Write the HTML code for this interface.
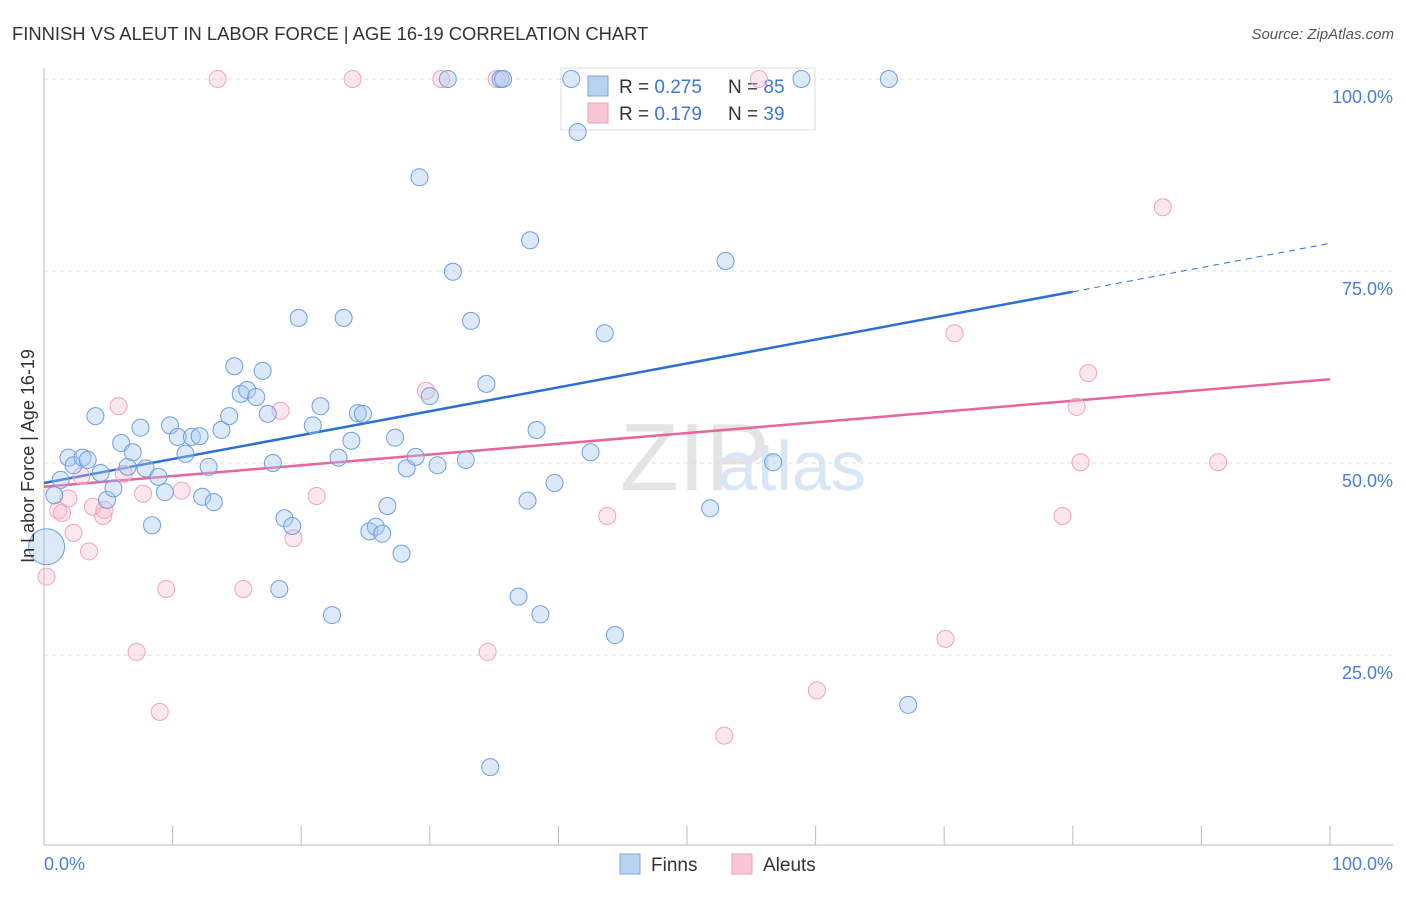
<!DOCTYPE html>
<html><head><meta charset="utf-8"><style>
body{margin:0;background:#fff;font-family:"Liberation Sans",sans-serif;}
svg text{font-family:"Liberation Sans",sans-serif;}
</style></head><body>
<svg id="chart" width="1406" height="892" xmlns="http://www.w3.org/2000/svg">
<text x="12" y="40" font-size="18.4" fill="#333">FINNISH VS ALEUT IN LABOR FORCE | AGE 16-19 CORRELATION CHART</text>
<text x="1394" y="39" font-size="15" fill="#555" text-anchor="end" font-style="italic">Source: ZipAtlas.com</text>
<text x="620" y="490" font-size="96" fill="#e4e4e4" font-family="Liberation Serif">ZIP</text>
<text x="718" y="490" font-size="70" fill="#d8e6f6">atlas</text>
<g id="grid"></g>
<g id="axes"></g>
<g>
<rect x="561" y="68" width="254" height="62" fill="#fff" stroke="#ddd"/>
<rect x="588" y="76" width="20" height="20" fill="#b9d2f2" stroke="#7aa6e0"/>
<rect x="588" y="103" width="20" height="20" fill="#f9c6d6" stroke="#ee9fba"/>
<text x="619" y="93" font-size="19" fill="#333">R = <tspan fill="#3b78d4">0.275</tspan></text>
<text x="728" y="93" font-size="19" fill="#333">N = <tspan fill="#3b78d4">85</tspan></text>
<text x="619" y="120" font-size="19" fill="#333">R = <tspan fill="#3b78d4"> 0.179</tspan></text>
<text x="728" y="120" font-size="19" fill="#333">N = <tspan fill="#3b78d4">39</tspan></text>
</g>
<g id="lines"></g>
<g id="points"></g>
<text transform="translate(34,456) rotate(-90)" font-size="18" fill="#333" text-anchor="middle">In Labor Force | Age 16-19</text>
<text x="44" y="870" font-size="18" fill="#4a7fd4">0.0%</text>
<text x="1393" y="870" font-size="18" fill="#4a7fd4" text-anchor="end">100.0%</text>
<g>
<rect x="620" y="854" width="20" height="20" fill="#b9d2f2" stroke="#7aa6e0"/>
<text x="651" y="871" font-size="19" fill="#333">Finns</text>
<rect x="732" y="854" width="20" height="20" fill="#f9c6d6" stroke="#ee9fba"/>
<text x="763" y="871" font-size="19" fill="#333">Aleuts</text>
</g>
</svg>
<script>
const yTicks=[25,50,75,100];
const yTickLabels=["25.0%","50.0%","75.0%","100.0%"];
const finnsX=[0.8,1.3,1.9,2.3,3.0,3.4,4.0,4.4,4.9,5.4,6.0,6.5,6.9,7.5,7.9,8.4,8.9,9.4,9.8,10.4,11.0,11.5,12.1,12.3,12.8,13.2,13.8,14.4,14.8,15.3,15.8,16.5,17.0,17.4,17.8,18.3,18.7,19.3,19.8,20.9,21.5,22.4,22.9,23.3,23.9,24.4,24.8,25.3,25.8,26.3,26.7,27.3,27.8,28.2,28.9,29.2,30.0,30.6,31.4,31.8,32.8,33.2,34.4,34.7,35.5,35.7,36.9,37.6,37.8,38.3,38.6,39.7,41.0,41.5,42.5,43.6,44.4,51.8,53.0,56.7,58.9,65.7,67.2,0.2];
const finnsY=[45.8,47.8,50.7,49.7,50.7,50.4,56.1,48.7,45.2,46.7,52.6,49.5,51.4,54.6,49.3,41.9,48.2,46.2,54.9,53.4,51.2,53.4,53.5,45.6,49.5,44.9,54.3,56.1,62.6,59.0,59.5,58.6,62.0,56.4,50.0,33.6,42.8,41.8,68.9,54.9,57.4,30.2,50.7,68.9,52.9,56.5,56.4,41.1,41.7,40.8,44.4,53.3,38.2,49.3,50.8,87.2,58.7,49.7,100,74.9,50.4,68.5,60.3,10.4,100,100,32.6,45.1,79.0,54.3,30.3,47.4,100,93.1,51.4,66.9,27.6,44.1,76.3,50.1,100,100,18.5,39.1];
const finnsSize=[8.5,8.5,8.5,8.5,8.5,8.5,8.5,8.5,8.5,8.5,8.5,8.5,8.5,8.5,8.5,8.5,8.5,8.5,8.5,8.5,8.5,8.5,8.5,8.5,8.5,8.5,8.5,8.5,8.5,8.5,8.5,8.5,8.5,8.5,8.5,8.5,8.5,8.5,8.5,8.5,8.5,8.5,8.5,8.5,8.5,8.5,8.5,8.5,8.5,8.5,8.5,8.5,8.5,8.5,8.5,8.5,8.5,8.5,8.5,8.5,8.5,8.5,8.5,8.5,8.5,8.5,8.5,8.5,8.5,8.5,8.5,8.5,8.5,8.5,8.5,8.5,8.5,8.5,8.5,8.5,8.5,8.5,8.5,18];
const aleutsX=[0.2,1.1,1.4,1.9,2.3,2.9,3.5,3.8,4.6,4.7,5.8,6.2,7.2,7.7,9.0,9.5,10.7,13.5,15.5,18.4,19.4,21.2,24.0,29.7,30.9,34.5,35.2,43.8,52.9,55.6,60.1,70.1,70.8,79.2,80.3,80.6,81.2,87.0,91.3];
const aleutsY=[35.2,43.8,43.5,45.4,40.9,48.3,38.5,44.3,43.1,43.9,57.4,48.6,25.4,46.0,17.6,33.6,46.4,100,33.6,56.8,40.2,45.7,100,59.4,100,25.4,100,43.1,14.5,100,20.4,27.1,66.9,43.1,57.3,50.1,61.7,83.3,50.1];
const finnsTrend=[47.4,72.3,78.6];
const finnsTrendX=[0,80,100];
const aleutsTrend=[46.9,60.9];
const aleutsTrendX=[0,100];

const NS="http://www.w3.org/2000/svg";
const X0=44,X1=1330,Y0=847,Y100=79;
const sx=v=>X0+(X1-X0)*v/100;
const sy=v=>Y0-(Y0-Y100)*v/100;
function mk(tag,attrs,parent){const e=document.createElementNS(NS,tag);for(const k in attrs)e.setAttribute(k,attrs[k]);parent.appendChild(e);return e;}
const grid=document.getElementById('grid'),axes=document.getElementById('axes'),lines=document.getElementById('lines'),pts=document.getElementById('points');
yTicks.forEach((t,i)=>{
  const g=mk('line',{x1:X0,x2:1393,y1:sy(t),y2:sy(t),stroke:'#ddd','stroke-dasharray':'4,4'},grid);
  
  
  const l=mk('text',{x:1393,y:sy(t)+24,'font-size':18,fill:'#4a7fd4','text-anchor':'end'},axes);
  l.textContent=yTickLabels[i];
  
  
});
const ax=mk('line',{x1:X0,x2:1393,y1:845,y2:845,stroke:'#bbb'},axes);


const ay=mk('line',{x1:X0,x2:X0,y1:68,y2:845,stroke:'#bbb'},axes);


for(let i=0;i<=10;i++){
  const t=mk('line',{x1:sx(i*10),x2:sx(i*10),y1:826,y2:845,stroke:'#bbb'},axes);
  
  
}
const b1=mk('line',{x1:sx(finnsTrendX[0]),y1:sy(finnsTrend[0]),x2:sx(finnsTrendX[1]),y2:sy(finnsTrend[1]),stroke:'#2a6fd6','stroke-width':2.5},lines);


const b2=mk('line',{x1:sx(finnsTrendX[1]),y1:sy(finnsTrend[1]),x2:sx(finnsTrendX[2]),y2:sy(finnsTrend[2]),stroke:'#2a6fd6','stroke-width':1,'stroke-dasharray':'6,5'},lines);


const p1=mk('line',{x1:sx(aleutsTrendX[0]),y1:sy(aleutsTrend[0]),x2:sx(aleutsTrendX[1]),y2:sy(aleutsTrend[1]),stroke:'#e8649a','stroke-width':2.5},lines);


aleutsX.forEach((x,i)=>{
  const c=mk('circle',{cx:sx(x),cy:sy(aleutsY[i]),r:8.5,fill:'rgba(248,186,206,0.35)',stroke:'#f0a3bf','stroke-width':1},pts);
  
  
});
finnsX.forEach((x,i)=>{
  const c=mk('circle',{cx:sx(x),cy:sy(finnsY[i]),r:finnsSize[i],fill:'rgba(168,200,240,0.4)',stroke:'#6e9fe0','stroke-width':1},pts);
  
  
});
</script>
</body></html>
